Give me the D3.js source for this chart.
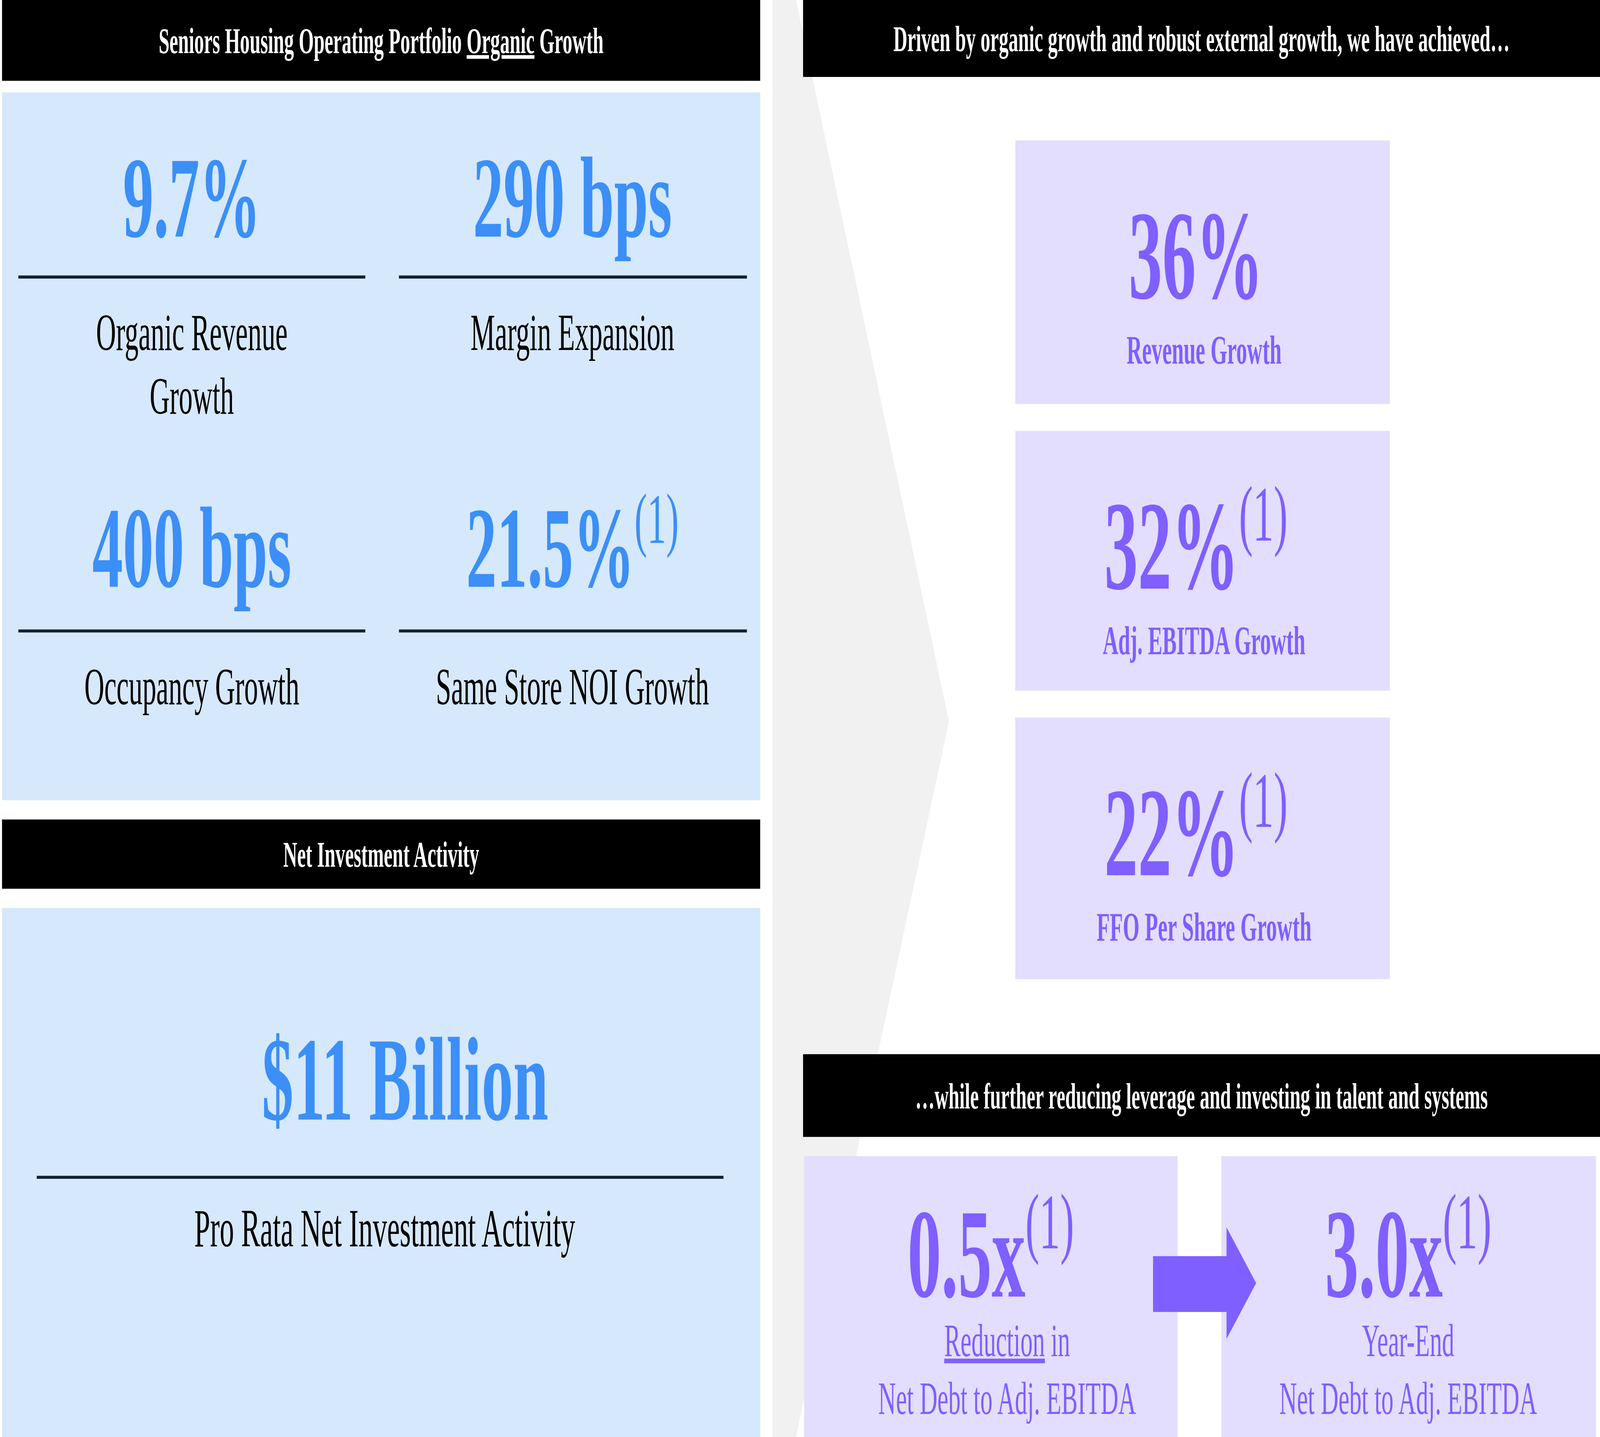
<!DOCTYPE html>
<html><head><meta charset="utf-8">
<script src="https://cdn.jsdelivr.net/npm/d3@7/dist/d3.min.js"></script>
<style>html,body{margin:0;padding:0;background:#fff;width:100%;height:100%;overflow:hidden}svg{display:block;width:100vw;height:100vh}</style>
</head><body>
<script>
const organicValues = ["9.7%", "290 bps", "400 bps", "21.5%"];
const organicNotes = ["", "", "", "(1)"];
const organicLabels = [["Organic Revenue","Growth"], ["Margin Expansion"], ["Occupancy Growth"], ["Same Store NOI Growth"]];
const investValue = "$11 Billion";
const investLabel = "Pro Rata Net Investment Activity";
const achievedValues = ["36%", "32%", "22%"];
const achievedNotes = ["", "(1)", "(1)"];
const achievedLabels = ["Revenue Growth", "Adj. EBITDA Growth", "FFO Per Share Growth"];
const leverageValues = ["0.5x", "3.0x"];
const leverageNotes = ["(1)", "(1)"];
const leverageLabels = [["Reduction in","Net Debt to Adj. EBITDA"], ["Year-End","Net Debt to Adj. EBITDA"]];
const headers = ["Seniors Housing Operating Portfolio ", "Net Investment Activity",
  "Driven by organic growth and robust external growth, we have achieved…",
  "…while further reducing leverage and investing in talent and systems"];

const F='"Liberation Serif","DejaVu Serif",serif';
const BLUE="#3b8ff6", LBLUE="#d6e8fc", PURPLE="#7f5fff", LAV="#e3defd";
const svg=d3.select("body").append("svg").attr("viewBox","0 0 1568 747").attr("preserveAspectRatio","none");
svg.append("rect").attr("width",1568).attr("height",747).attr("fill","#fff");
svg.append("polygon").attr("points","757,0 780,0 930,375 780,747 757,747").attr("fill","#f1f1f1");

function valueText(x,y,val,note,size,color){
  const t=svg.append("text").attr("x",x).attr("y",y).attr("text-anchor","middle")
    .attr("font-family",F).attr("fill",color);
  t.append("tspan").attr("font-size",size).attr("font-weight","bold").text(val);
  if(note) t.append("tspan").attr("font-size",size*0.62).attr("dy",-size*0.38).text(note);
}
function header(x,y,w,h,txt,size){
  svg.append("rect").attr("x",x).attr("y",y).attr("width",w).attr("height",h).attr("fill","#000");
  return svg.append("text").attr("x",x+w/2).attr("y",y+h/2+size*0.35).attr("text-anchor","middle")
    .attr("font-family",F).attr("font-weight","bold").attr("font-size",size).attr("fill","#fff").text(txt);
}
const h1=header(2,0,743,42,headers[0],19);
h1.append("tspan").attr("text-decoration","underline").text("Organic");
h1.append("tspan").text(" Growth");
svg.append("rect").attr("x",2).attr("y",48).attr("width",743).attr("height",368).attr("fill",LBLUE);
const cx=[188,561], vy=[123,305], ly=[144,328];
organicValues.forEach((v,i)=>{
  const c=i%2, r=Math.floor(i/2);
  valueText(cx[c],vy[r],v,organicNotes[i],60,BLUE);
  svg.append("line").attr("x1",c?391:18).attr("x2",c?732:358).attr("y1",ly[r]).attr("y2",ly[r])
    .attr("stroke","#0f2233").attr("stroke-width",1.6);
  organicLabels[i].forEach((l,j)=>svg.append("text").attr("x",cx[c]).attr("y",ly[r]+38+j*33)
    .attr("text-anchor","middle").attr("font-family",F).attr("font-size",27).attr("fill","#000").text(l));
});
header(2,426,743,36,headers[1],19);
svg.append("rect").attr("x",2).attr("y",472).attr("width",743).attr("height",275).attr("fill",LBLUE);
valueText(397,582,investValue,"",62,BLUE);
svg.append("line").attr("x1",36).attr("x2",709).attr("y1",612).attr("y2",612).attr("stroke","#0f2233").attr("stroke-width",1.6);
svg.append("text").attr("x",377).attr("y",648).attr("text-anchor","middle").attr("font-family",F).attr("font-size",28).text(investLabel);

header(787,0,781,40,headers[2],19);
const by=[73,224,373], bh=[137,135,136];
achievedValues.forEach((v,i)=>{
  svg.append("rect").attr("x",995).attr("y",by[i]).attr("width",367).attr("height",bh[i]).attr("fill",LAV);
  valueText(1172,by[i]+82,v,achievedNotes[i],66,PURPLE);
  svg.append("text").attr("x",1180).attr("y",by[i]+116).attr("text-anchor","middle").attr("font-family",F)
    .attr("font-weight","bold").attr("font-size",21).attr("fill",PURPLE).text(achievedLabels[i]);
});
header(787,548,781,43,headers[3],19);
const bx=[788,1197], bw=[366,367], bcx=[971,1380];
leverageValues.forEach((v,i)=>{
  svg.append("rect").attr("x",bx[i]).attr("y",601).attr("width",bw[i]).attr("height",146).attr("fill",LAV);
  valueText(bcx[i],674,v,leverageNotes[i],66,PURPLE);
  leverageLabels[i].forEach((l,j)=>{
    const t=svg.append("text").attr("x",i?1380:987).attr("y",705+j*30).attr("text-anchor","middle").attr("font-family",F)
      .attr("font-size",24).attr("fill",PURPLE);
    if(i===0&&j===0){t.append("tspan").attr("text-decoration","underline").text("Reduction");t.append("tspan").text(" in");}
    else t.text(l);
  });
});
svg.append("rect").attr("x",1130).attr("y",653).attr("width",73).attr("height",29).attr("fill",PURPLE);
svg.append("polygon").attr("points","1202,638 1231,667 1202,696").attr("fill",PURPLE);
</script>
</body></html>
